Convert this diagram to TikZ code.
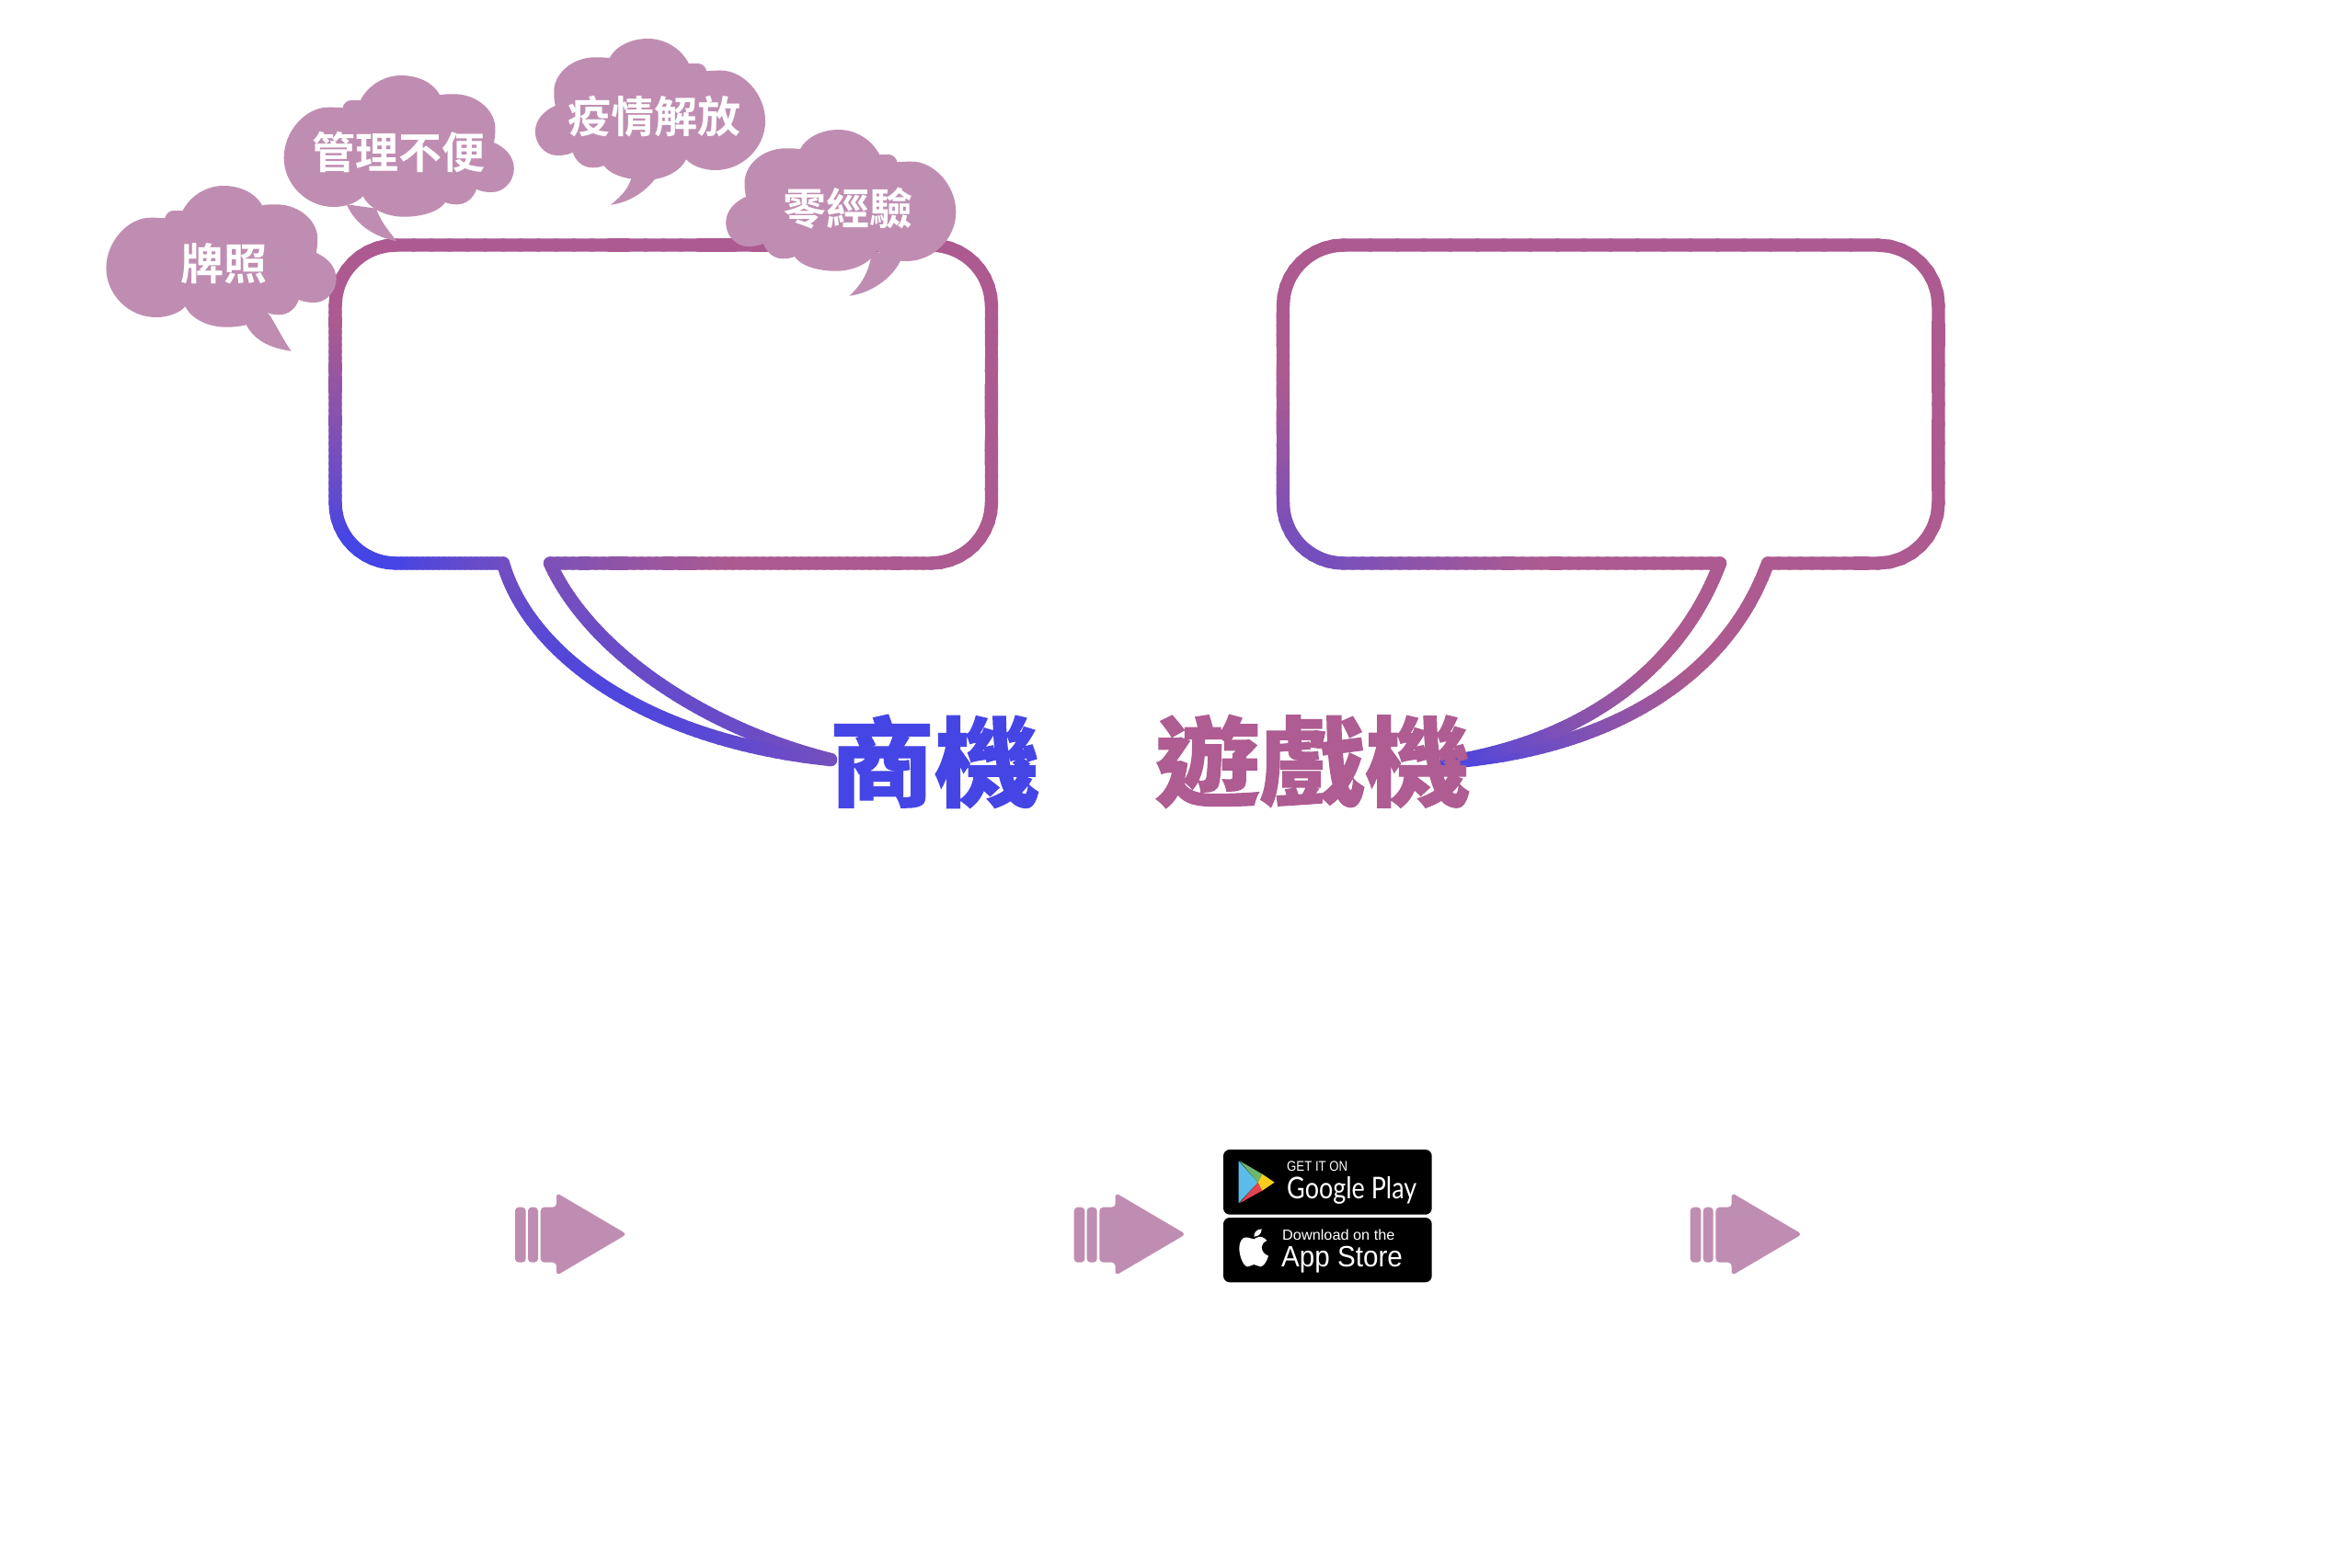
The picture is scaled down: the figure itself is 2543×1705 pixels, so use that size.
\documentclass[tikz,border=0pt]{standalone}
\usepackage{fontspec}
\usepackage{graphicx}
\setmainfont{Liberation Sans}
\newfontfamily\cjkmed{Noto Sans CJK TC Bold}
\newfontfamily\cjkblack[FakeBold=1]{Noto Sans CJK TC Black}
\newfontfamily\lato{Lato}
\definecolor{cloudpink}{RGB}{192,141,178}
\definecolor{headblue}{RGB}{69,69,230}
\definecolor{headpink}{RGB}{174,92,146}
\tikzset{
  cloudtext/.style={text=white,inner sep=0pt,font=\cjkmed\fontsize{47}{47}\selectfont},
  headtext/.style={inner sep=0pt,font=\cjkblack\fontsize{106}{106}\selectfont},
  badge/.style={fill=black,rounded corners=7pt},
  badgetext/.style={text=white,inner sep=0pt,anchor=base west},
  markpart/.style={fill=cloudpink,rounded corners=4pt}
}
% gradient stroke: a bezier cut in short pieces, each coloured by its position
\newcommand\gradcurve[9]{%
  \foreach \i in {1,...,#9}{%
    \pgfmathsetmacro\ta{(\i-1)/#9}%
    \pgfmathsetmacro\tb{\i/#9}%
    \pgfmathsetmacro\xa{(1-\ta)^3*#1+3*(1-\ta)^2*\ta*#3+3*(1-\ta)*\ta^2*#5+\ta^3*#7}%
    \pgfmathsetmacro\ya{(1-\ta)^3*#2+3*(1-\ta)^2*\ta*#4+3*(1-\ta)*\ta^2*#6+\ta^3*#8}%
    \pgfmathsetmacro\xb{(1-\tb)^3*#1+3*(1-\tb)^2*\tb*#3+3*(1-\tb)*\tb^2*#5+\tb^3*#7}%
    \pgfmathsetmacro\yb{(1-\tb)^3*#2+3*(1-\tb)^2*\tb*#4+3*(1-\tb)*\tb^2*#6+\tb^3*#8}%
    \pgfmathsetmacro\uu{\gdx*(\xa+\xb)/2+\gdy*(\ya+\yb)/2}%
    \pgfmathsetmacro\ss{min(1,max(0.001,(\uu-\guo)/(\guu-\guo)))}%
    \pgfmathsetmacro\vv{pow(\ss,0.75)}%
    \pgfmathsetmacro\cr{(68+104*\vv)/255}%
    \pgfmathsetmacro\cg{(68+22*\vv)/255}%
    \pgfmathsetmacro\cb{(230-86*\vv)/255}%
    \definecolor{seg}{rgb}{\cr,\cg,\cb}%
    \draw[seg,line width=14.4pt,line cap=round] (\xa,\ya) -- (\xb,\yb);
  }%
}
\newcommand\gradline[5]{%
  \pgfmathsetmacro\cax{#1+(#3-#1)/3}\pgfmathsetmacro\cay{#2+(#4-#2)/3}%
  \pgfmathsetmacro\cbx{#1+2*(#3-#1)/3}\pgfmathsetmacro\cby{#2+2*(#4-#2)/3}%
  \edef\gltmp{\noexpand\gradcurve{#1}{#2}{\cax}{\cay}{\cbx}{\cby}{#3}{#4}{#5}}\gltmp}
\newcommand\cloudpath{%
  (109,209.3) .. controls (118,192) and (136,182) .. (153.8,182)
  .. controls (172,182) and (189,190) .. (196,203.3)
  .. controls (199,202.5) and (205,202.3) .. (211.5,202.3)
  .. controls (238,202.3) and (258,222) .. (256.5,241.7)
  .. controls (256.5,246) and (256,251) .. (255,255)
  .. controls (267,260) and (277,270) .. (277,283.3)
  .. controls (277,297) and (266,309) .. (253,309)
  .. controls (246,309) and (240,308) .. (236,305.7)
  .. controls (233,315) and (225,322.3) .. (214.7,322.3)
  .. controls (210,322.3) and (205,321.5) .. (202,320)
  .. controls (195,330) and (177,335.7) .. (157,335.7)
  .. controls (137,335.7) and (119,327) .. (112,313.3)
  .. controls (106,320) and (94,325) .. (80,325)
  .. controls (50,325) and (25.6,300) .. (25.6,271.7)
  .. controls (25.6,242) and (50,216.7) .. (73.7,216.7)
  .. controls (79,216.7) and (85,216.7) .. (89.7,217.3)
  .. controls (91,212) and (95,209) .. (99.4,209)
  .. controls (103,209) and (106,209) .. (109,209.3) -- cycle}
\newcommand\arrowmark[1]{%
  \begin{scope}[xshift=#1pt]
    \fill[markpart] (560,1312.7) rectangle (571.7,1372.7);
    \fill[markpart] (574,1312.7) rectangle (585,1372.7);
    \fill[markpart] (587.7,1312.7) -- (605,1312.7) -- (605,1297) -- (681.5,1342) -- (605,1387) -- (605,1372.7) -- (587.7,1372.7) -- cycle;
  \end{scope}}
\begin{document}
\begin{tikzpicture}[x=1pt,y=-1pt]
\useasboundingbox (0,0) rectangle (2543,1705);
\fill[white] (0,0) rectangle (2543,1705);
% left bubble
\def\gdx{0.534}\def\gdy{-0.845}\def\guo{-290}\def\guu{-95}
\gradline{430.5}{266.5}{1012}{266.5}{30}
\gradcurve{1012}{266.5}{1048.5}{266.5}{1078}{296}{1078}{332.5}{10}
\gradline{1078}{332.5}{1078}{546.5}{15}
\gradcurve{1078}{546.5}{1078}{583}{1048.5}{612.5}{1012}{612.5}{10}
\gradline{1012}{612.5}{598}{612.5}{50}
\gradcurve{598}{612.5}{640}{705}{760}{790}{903}{826}{60}
\gradcurve{903}{826}{700}{805}{575}{710}{547}{612.5}{60}
\gradline{547}{612.5}{430.5}{612.5}{20}
\gradcurve{430.5}{612.5}{394}{612.5}{364.5}{583}{364.5}{546.5}{12}
\gradline{364.5}{546.5}{364.5}{332.5}{30}
\gradcurve{364.5}{332.5}{364.5}{296}{394}{266.5}{430.5}{266.5}{10}
% right bubble
\def\gdx{0.613}\def\gdy{-0.79}\def\guo{317}\def\guu{537}
\gradline{1461}{266.5}{2041.5}{266.5}{20}
\gradcurve{2041.5}{266.5}{2078}{266.5}{2107.5}{296}{2107.5}{332.5}{8}
\gradline{2107.5}{332.5}{2107.5}{546.5}{10}
\gradcurve{2107.5}{546.5}{2107.5}{583}{2078}{612.5}{2041.5}{612.5}{8}
\gradline{2041.5}{612.5}{1922}{612.5}{10}
\gradcurve{1922}{612.5}{1880}{730}{1760}{815}{1572}{829}{70}
\gradcurve{1572}{829}{1730}{805}{1830}{720}{1870}{612.5}{70}
\gradline{1870}{612.5}{1461}{612.5}{40}
\gradcurve{1461}{612.5}{1424.5}{612.5}{1395}{583}{1395}{546.5}{12}
\gradline{1395}{546.5}{1395}{332.5}{20}
\gradcurve{1395}{332.5}{1395}{296}{1424.5}{266.5}{1461}{266.5}{10}
% clouds
\fill[cloudpink,shift={(90,20)},xscale=0.995] \cloudpath;
\fill[cloudpink] (267.3,352.3) .. controls (277,372) and (297,379) .. (316.5,381.7) .. controls (305,365) and (296,345) .. (290.9,340) -- cycle;
\fill[cloudpink,shift={(283.2,-100)},xscale=0.995] \cloudpath;
\fill[cloudpink] (377,222.3) .. controls (386.5,245) and (408.5,258) .. (431.5,262.3) .. controls (421.5,250) and (413.5,240) .. (409,226.7) -- cycle;
\fill[cloudpink,shift={(857.5,-140)},xscale=-0.995] \cloudpath;
\fill[cloudpink] (713.2,193.3) .. controls (702,208) and (685,220) .. (664,222.7) .. controls (677,212) and (683,205) .. (686.3,194) -- cycle;
\fill[cloudpink,shift={(1064.8,-41)},xscale=-0.995] \cloudpath;
\fill[cloudpink] (979,283.3) .. controls (970,303) and (946,319) .. (923.5,321.7) .. controls (936,310) and (946,295) .. (948,272) -- cycle;
\node[cloudtext] (c1) at (243,286.7) {牌照};
\node[cloudtext] (c2) at (433.5,165.7) {管理不便};
\node[cloudtext] (c3) at (711,126.8) {疫情解放};
\node[cloudtext] (c4) at (922,226.8) {零經驗};
% headings
\node[headtext,text=headblue] (h1) at (1016,828) {\scalebox{1.08}[1]{商機}};
\node[headtext,text=headpink] (h2) at (1427,828) {\scalebox{1.08}[1]{遊戲機}};
% arrows
\arrowmark{0}
\arrowmark{607.7}
\arrowmark{1277.7}
% store badges
\fill[badge] (1330,1250) rectangle (1556.7,1320.7);
\fill[badge] (1330,1324) rectangle (1556.7,1394.3);
\begin{scope}[shift={(1300,1229)},x=0.3333pt,y=-0.3333pt]
  \fill[fill={rgb,255:red,90;green,189;blue,233}] (140,100) -- (203,170) -- (140,238) -- cycle;
  \fill[fill={rgb,255:red,109;green,185;blue,107}] (143,100) -- (217,143) -- (203,170) -- cycle;
  \fill[fill={rgb,255:red,226;green,68;blue,82}] (143,238) -- (203,170) -- (217,197) -- cycle;
  \fill[fill={rgb,255:red,246;green,205;blue,31}] (217,143) -- (257,170) -- (217,197) -- (203,170) -- cycle;
  \fill[white] (190,355) .. controls (175,352) and (165,346) .. (155,352) .. controls (147,358) and (142,370) .. (142,385)
     .. controls (142,410) and (155,445) .. (170,445) .. controls (178,445) and (182,438) .. (190,438)
     .. controls (198,438) and (203,445) .. (211,445) .. controls (222,445) and (233,425) .. (237,410)
     .. controls (222,404) and (215,392) .. (215,382) .. controls (215,372) and (222,365) .. (232,360)
     .. controls (225,350) and (213,346) .. (205,348) .. controls (200,349) and (195,353) .. (190,355) -- cycle;
  \fill[white] (190,347) .. controls (190,332) and (200,323) .. (215,322) .. controls (215,337) and (205,347) .. (190,347) -- cycle;
\end{scope}
\node[badgetext] (b1) at (1399,1273) {\resizebox{66pt}{10.7pt}{GET IT ON}};
\node[badgetext] (b2) at (1399,1303) {\resizebox{141pt}{24pt}{\lato Google Play}};
\node[badgetext] (b3) at (1394,1348.3) {\resizebox{122.3pt}{11.5pt}{Download on the}};
\node[badgetext] (b4) at (1393,1377.3) {\resizebox{131.7pt}{22.3pt}{App Store}};
\end{tikzpicture}
\end{document}
